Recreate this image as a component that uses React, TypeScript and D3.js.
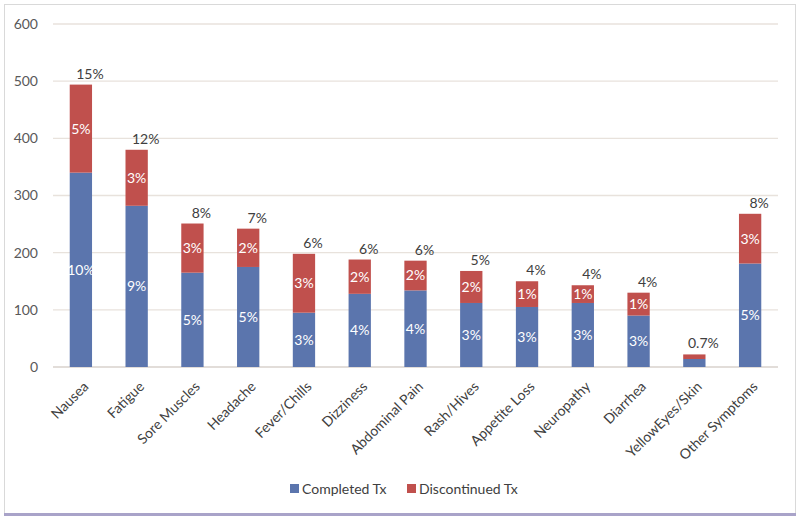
import React from "react";
import * as d3 from "d3";

const categories = ["Nausea", "Fatigue", "Sore Muscles", "Headache", "Fever/Chills", "Dizziness", "Abdominal Pain", "Rash/Hives", "Appetite Loss", "Neuropathy", "Diarrhea", "YellowEyes/Skin", "Other Symptoms"];
const completed = [340, 282, 165, 175, 95, 128, 134, 112, 105, 112, 90, 14, 181];
const discontinued = [154, 98, 86, 67, 103, 60, 52, 56, 45, 31, 40, 8, 87];
const completedPct = ["10%", "9%", "5%", "5%", "3%", "4%", "4%", "3%", "3%", "3%", "3%", "", "5%"];
const discontinuedPct = ["5%", "3%", "3%", "2%", "3%", "2%", "2%", "2%", "1%", "1%", "1%", "", "3%"];
const totalPct = ["15%", "12%", "8%", "7%", "6%", "6%", "6%", "5%", "4%", "4%", "4%", "0.7%", "8%"];
const yTicks = [0, 100, 200, 300, 400, 500, 600];
const seriesNames = ["Completed Tx", "Discontinued Tx"];

const BLUE = "#5b75ad";
const RED = "#c0504d";
const FONT = "Lato, 'Open Sans', sans-serif";

export default function App() {
  const W = 800, H = 518;
  const left = 53, right = 778, top = 24, bottom = 367;
  const x = d3.scaleBand<string>().domain(categories).range([left, right]).paddingInner(0.6).paddingOuter(0.3);
  const y = d3.scaleLinear().domain([0, 600]).range([bottom, top]);
  const bw = x.bandwidth();

  return (
    <svg width={W} height={H} style={{ position: "absolute", left: 0, top: 0 }} fontFamily={FONT}>
      <rect x={0} y={0} width={W} height={H} fill="#ffffff" />
      <rect x={4.5} y={4.5} width={791} height={509} fill="#ffffff" stroke="#d9d9d9" strokeWidth={1} />
      <rect x={4} y={513} width={792} height={3} fill="#a9a3c9" />
      {yTicks.map((t) => (
        <g key={t}>
          <line x1={left} x2={right} y1={y(t)} y2={y(t)} stroke={t === 0 ? "#d9d2cc" : "#e8e2dc"} strokeWidth={1.3} />
          <text x={38} y={y(t)} dy="0.35em" textAnchor="end" fontSize={14} fill="#595959">{t}</text>
        </g>
      ))}
      {categories.map((c, i) => {
        const x0 = x(c)!;
        const cx = x0 + bw / 2;
        const yc = y(completed[i]);
        const yt = y(completed[i] + discontinued[i]);
        return (
          <g key={c}>
            <rect x={x0} y={yc} width={bw} height={bottom - yc} fill={BLUE} />
            <rect x={x0} y={yt} width={bw} height={yc - yt} fill={RED} />
            {completedPct[i] && (
              <text x={cx} y={(yc + bottom) / 2} dy="0.35em" textAnchor="middle" fontSize={14} fill="#ffffff">{completedPct[i]}</text>
            )}
            {discontinuedPct[i] && (
              <text x={cx} y={(yt + yc) / 2} dy="0.35em" textAnchor="middle" fontSize={14} fill="#ffffff">{discontinuedPct[i]}</text>
            )}
            <text x={cx + 9} y={yt - 6} textAnchor="middle" fontSize={14} fill="#404040">{totalPct[i]}</text>
            <text transform={`translate(${cx + 5},${bottom + 17}) rotate(-45)`} textAnchor="end" fontSize={14} fill="#404040" dy="0.35em">{c}</text>
          </g>
        );
      })}
      <g>
        <rect x={290} y={484} width={9} height={9} fill={BLUE} />
        <text x={302} y={489} dy="0.35em" fontSize={14} fill="#404040">{seriesNames[0]}</text>
        <rect x={407} y={484} width={9} height={9} fill={RED} />
        <text x={419} y={489} dy="0.35em" fontSize={14} fill="#404040">{seriesNames[1]}</text>
      </g>
    </svg>
  );
}
